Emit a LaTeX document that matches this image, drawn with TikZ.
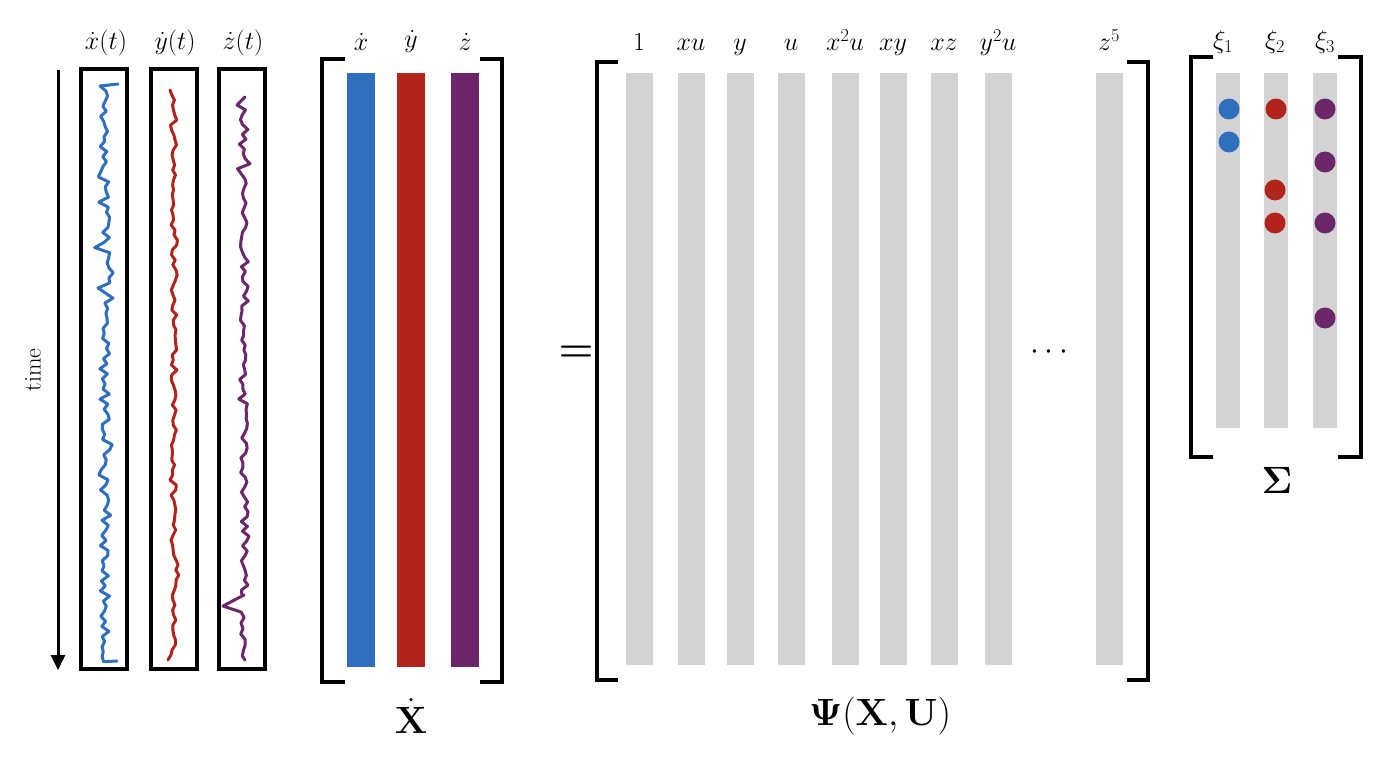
\documentclass[tikz,border=0pt]{standalone}
\usepackage{fix-cm}
\usepackage{amsmath,bm}
\usetikzlibrary{arrows.meta}
\definecolor{cblue}{HTML}{2F6FBE}
\definecolor{cred}{HTML}{B0241B}
\definecolor{cpurple}{HTML}{6C276A}
\definecolor{cgray}{HTML}{D3D3D3}
\begin{document}
\begin{tikzpicture}[x=1pt,y=-1pt,
  lbl/.style={inner sep=0pt,font=\fontsize{26}{28}\selectfont},
  big/.style={inner sep=0pt,font=\fontsize{38}{42}\selectfont},
  tbox/.style={draw,line width=3.2pt,minimum width=46pt,minimum height=600pt,inner sep=0pt},
  xbar/.style={fill=#1,draw=none,minimum width=28pt,minimum height=594pt,inner sep=0pt},
  gbar/.style={fill=cgray,draw=none,minimum width=27pt,minimum height=592pt,inner sep=0pt},
  sbar/.style={fill=cgray,draw=none,minimum width=24pt,minimum height=355pt,inner sep=0pt},
  dotc/.style={circle,fill=#1,draw=none,minimum size=21pt,inner sep=0pt},
  brk/.style={line width=3.6pt,line join=miter},
  trace/.style={line width=3pt,line join=round,line cap=round},
]
\useasboundingbox (0,0) rectangle (1384,762);

% time arrow
\coordinate (ta) at (58,70);
\coordinate (tb) at (58,670);
\draw[line width=3pt,-{Triangle[length=15pt,width=14pt]}] (ta) -- (tb);
\node[inner sep=0pt,rotate=90,font=\fontsize{24}{26}\selectfont] (time) at (33,370) {time};

% trace boxes
\node[tbox] (b1) at (104,369) {};
\node[tbox] (b2) at (174,369) {};
\node[tbox] (b3) at (242,369) {};
\node[lbl] (l1) at (106,43) {$\dot{x}(t)$};
\node[lbl] (l2) at (175,43) {$\dot{y}(t)$};
\node[lbl] (l3) at (243,43) {$\dot{z}(t)$};

\pgfmathsetseed{7}
\draw[trace,cblue] (118,84) -- (100,86) \foreach \k in {1,...,114} { -- ({105+5*rand+9*rand*rand*rand}, {86+\k*5.05}) } -- (117,661);
\draw[trace,cred] (170,90) \foreach \k in {1,...,113} { -- ({174+3*rand+10*rand*rand*rand*rand*rand}, {90+\k*5.0}) } -- (168,660);
\draw[trace,cpurple] (245,97) -- (237,105) \foreach \k in {1,...,100} { -- ({244+3.5*rand+9*rand*rand*rand}, {105+\k*4.9}) } -- (244,595) -- (223,606) -- (241,612) \foreach \k in {1,...,8} { -- ({243+2.5*rand}, {612+\k*5.5}) } -- (245,660);

% X dot matrix
\draw[brk] (345,59) -- (322,59) -- (322,682) -- (345,682);
\draw[brk] (480,59) -- (502,59) -- (502,682) -- (480,682);
\node[xbar=cblue] (xb) at (361,370) {};
\node[xbar=cred] (yb) at (411,370) {};
\node[xbar=cpurple] (zb) at (465,370) {};
\node[lbl] (lx) at (361,42) {$\dot{x}$};
\node[lbl] (ly) at (411,42) {$\dot{y}$};
\node[lbl] (lz) at (465,42) {$\dot{z}$};
\node[big] (Xd) at (411,716) {$\dot{\mathbf{X}}$};

\node[inner sep=0pt,font=\fontsize{40}{44}\selectfont] (eq) at (576,354) {$\bm{=}$};

% Psi matrix
\draw[brk] (618,62) -- (597,62) -- (597,680) -- (618,680);
\draw[brk] (1127,62) -- (1148,62) -- (1148,680) -- (1127,680);
\foreach \n/\xx/\t in {p1/639/1, p2/691/xu, p3/740/y, p4/791/u, p5/845/x^2u, p6/893/xy, p7/944/xz, p8/998/y^2u, p9/1109/z^5}{
  \node[gbar] (\n) at (\xx,369) {};
  \node[lbl,anchor=base] (t\n) at (\xx,51) {$\t$};
}
\node[inner sep=0pt,font=\fontsize{32}{34}\selectfont] (dots) at (1052,352) {$\cdots$};
\node[big] (Psi) at (880,716) {$\bm{\Psi}(\mathbf{X},\mathbf{U})$};

% Xi matrix
\draw[brk] (1213,57) -- (1191,57) -- (1191,457) -- (1213,457);
\draw[brk] (1338,57) -- (1361,57) -- (1361,457) -- (1338,457);
\node[sbar] (s1) at (1228,250.5) {};
\node[sbar] (s2) at (1276,250.5) {};
\node[sbar] (s3) at (1325,250.5) {};
\node[lbl] (x1) at (1223,42) {$\xi_1$};
\node[lbl] (x2) at (1275,42) {$\xi_2$};
\node[lbl] (x3) at (1325,42) {$\xi_3$};
\node[dotc=cblue] (d11) at (1229,109) {};
\node[dotc=cblue] (d12) at (1229,142) {};
\node[dotc=cred] (d21) at (1276,109) {};
\node[dotc=cred] (d22) at (1275,190) {};
\node[dotc=cred] (d23) at (1275,223) {};
\node[dotc=cpurple] (d31) at (1325,109) {};
\node[dotc=cpurple] (d32) at (1325,162) {};
\node[dotc=cpurple] (d33) at (1325,223) {};
\node[dotc=cpurple] (d34) at (1325,318) {};
\node[inner sep=0pt,font=\fontsize{38}{42}\selectfont] (Sig) at (1277,480) {$\bm{\Sigma}$};
\end{tikzpicture}
\end{document}
